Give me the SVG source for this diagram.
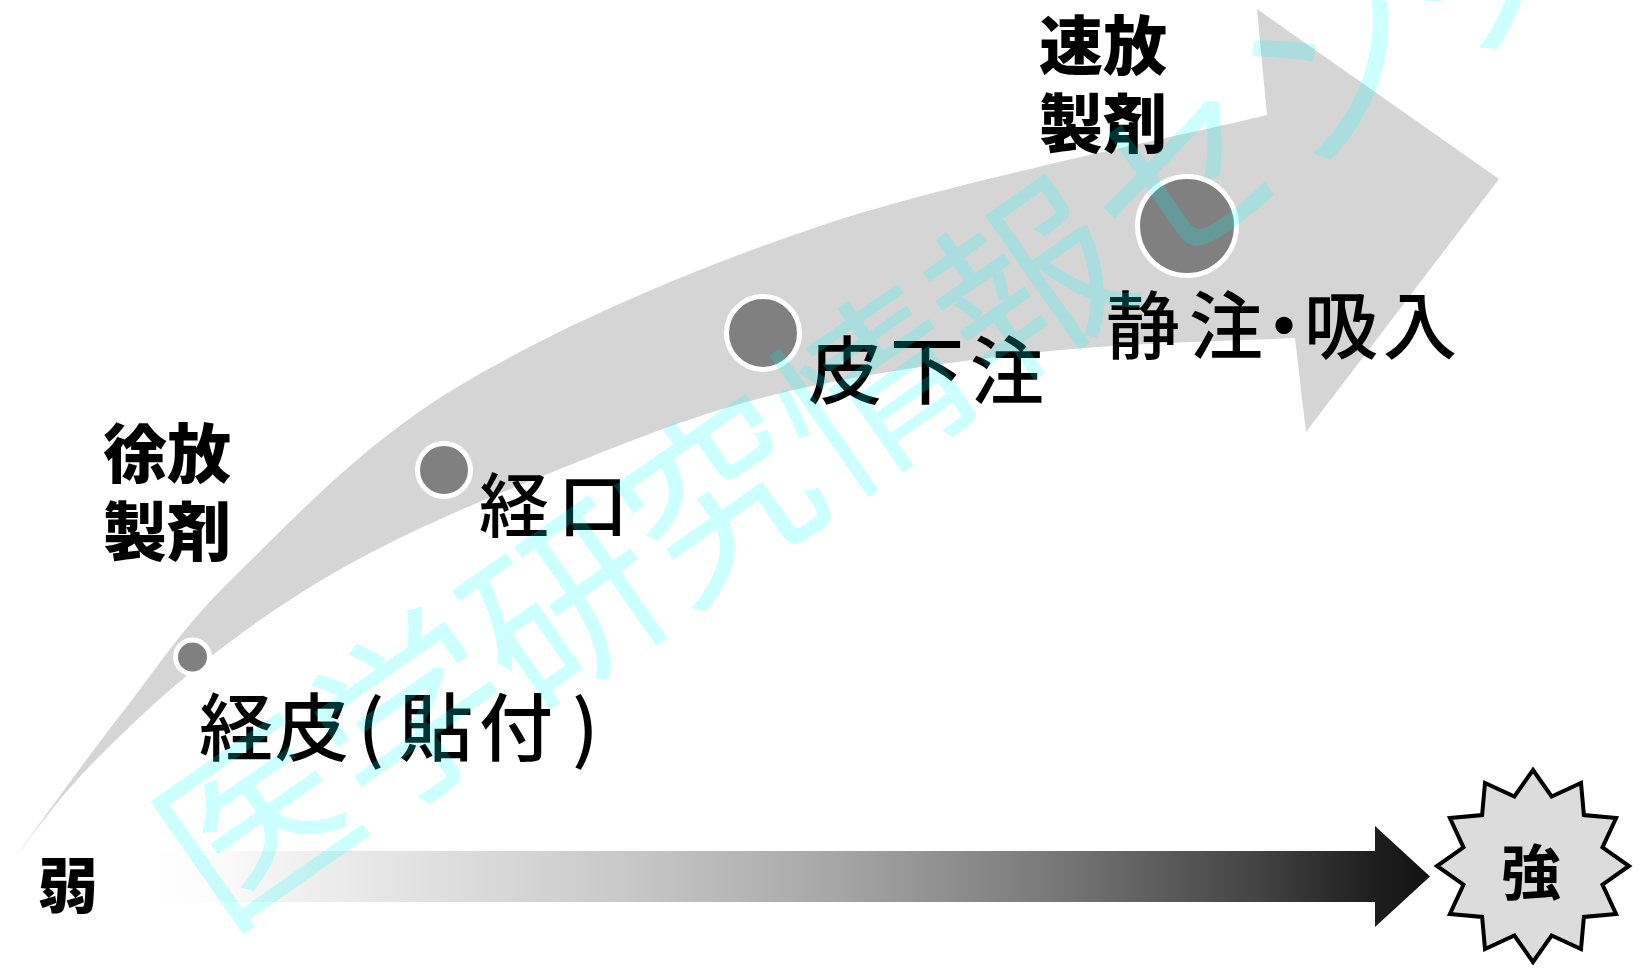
<svg xmlns="http://www.w3.org/2000/svg" width="1640" height="969" viewBox="0 0 1640 969">
<defs>
<style>
.lbl{font-family:'Noto Sans CJK JP','Noto Sans CJK SC',sans-serif;font-weight:500;fill:#000}
.bold{font-family:'Noto Sans CJK JP','Noto Sans CJK SC',sans-serif;font-weight:900;fill:#000}
.mid{font-family:'Noto Sans CJK JP','Noto Sans CJK SC',sans-serif;font-weight:700;fill:#000}
.dot{fill:#808080;stroke:#ffffff;stroke-width:5}
.wm{font-family:'Noto Sans CJK JP','Noto Sans CJK SC',sans-serif;font-weight:400;font-size:188px;fill:#00ffff;fill-opacity:0.2}
</style>
<linearGradient id="grad" gradientUnits="userSpaceOnUse" x1="150" y1="0" x2="1430" y2="0">
<stop offset="0" stop-color="#ffffff"/>
<stop offset="0.05" stop-color="#fbfbfb"/>
<stop offset="0.128" stop-color="#eeeeee"/>
<stop offset="0.373" stop-color="#c8c8c8"/>
<stop offset="0.537" stop-color="#a6a6a6"/>
<stop offset="0.7" stop-color="#7a7a7a"/>
<stop offset="0.863" stop-color="#444444"/>
<stop offset="0.957" stop-color="#1e1e1e"/>
<stop offset="1" stop-color="#121212"/>
</linearGradient>
</defs>
<rect width="1640" height="969" fill="#ffffff"/>
<g id="connectors">
<path id="curve-arrow" fill="#d5d5d5" d="M16,856 C33.7,832.2 85.3,759.8 122,713 C158.7,666.2 179.8,629.5 236,575 C292.2,520.5 361.7,444.2 459,386 C556.3,327.8 685.3,271.2 820,226 C954.7,180.8 1192.5,133.5 1267,115 L1257,9 L1499,179 L1306,432 L1295,338 C1252.7,340.3 1128,342.5 1041,352 C954,361.5 854.8,374.8 773,395 C691.2,415.2 619.3,445.5 550,473 C480.7,500.5 413.7,529.3 357,560 C300.3,590.7 254.7,622.5 210,657 C165.3,691.5 121.3,733.8 89,767 C56.7,800.2 28.2,841.2 16,856 Z"/>
<path id="strength-arrow" fill="url(#grad)" d="M150,851 L1375,851 L1375,826 L1430,876.5 L1375,927 L1375,902 L150,902 Z"/>
</g>
<g id="node-transdermal">
<circle class="dot" cx="192.5" cy="657" r="17"/>
<text class="lbl" font-size="74" y="755"><tspan x="199">経</tspan><tspan x="275">皮</tspan><tspan x="358">(</tspan><tspan x="399">貼</tspan><tspan x="479">付</tspan><tspan x="572">)</tspan></text>
</g>
<g id="node-oral">
<circle class="dot" cx="444" cy="470" r="26.5"/>
<text class="lbl" font-size="70" y="532"><tspan x="479">経</tspan><tspan x="558">口</tspan></text>
</g>
<g id="node-subcutaneous">
<circle class="dot" cx="763" cy="333" r="36.5"/>
<text class="lbl" font-size="74" y="398"><tspan x="808">皮</tspan><tspan x="890">下</tspan><tspan x="970">注</tspan></text>
</g>
<g id="node-iv">
<circle class="dot" cx="1187" cy="226" r="49.5"/>
<text class="lbl" font-size="74" y="353"><tspan x="1106">静</tspan><tspan x="1189">注</tspan><tspan x="1247">・</tspan><tspan x="1304">吸</tspan><tspan x="1383">入</tspan></text>
</g>
<g id="node-sustained">
<text class="bold" font-size="64" x="103" y="477">徐放</text>
<text class="bold" font-size="64" x="103" y="555">製剤</text>
</g>
<g id="node-immediate">
<text class="bold" font-size="64" x="1039" y="69">速放</text>
<text class="bold" font-size="64" x="1039" y="147">製剤</text>
</g>
<g id="node-weak">
<text class="bold" font-size="60" x="38" y="908">弱</text>
</g>
<g id="node-strong">
<polygon fill="#dcdcdc" stroke="#000000" stroke-width="4" points="1533,770 1551.6,796.5 1581,782.9 1583.9,815.1 1616.1,818 1602.5,847.4 1629,866 1602.5,884.6 1616.1,914 1583.9,916.9 1581,949.1 1551.6,935.5 1533,962 1514.4,935.5 1485,949.1 1482.1,916.9 1449.9,914 1463.5,884.6 1437,866 1463.5,847.4 1449.9,818 1482.1,815.1 1485,782.9 1514.4,796.5"/>
<text class="mid" font-size="60" x="1531" y="895" text-anchor="middle">強</text>
</g>
<g id="watermark">
<text class="wm" transform="translate(220.6 932.8) rotate(-35)" x="0" y="0">医学研究情報センター</text>
</g>
</svg>
